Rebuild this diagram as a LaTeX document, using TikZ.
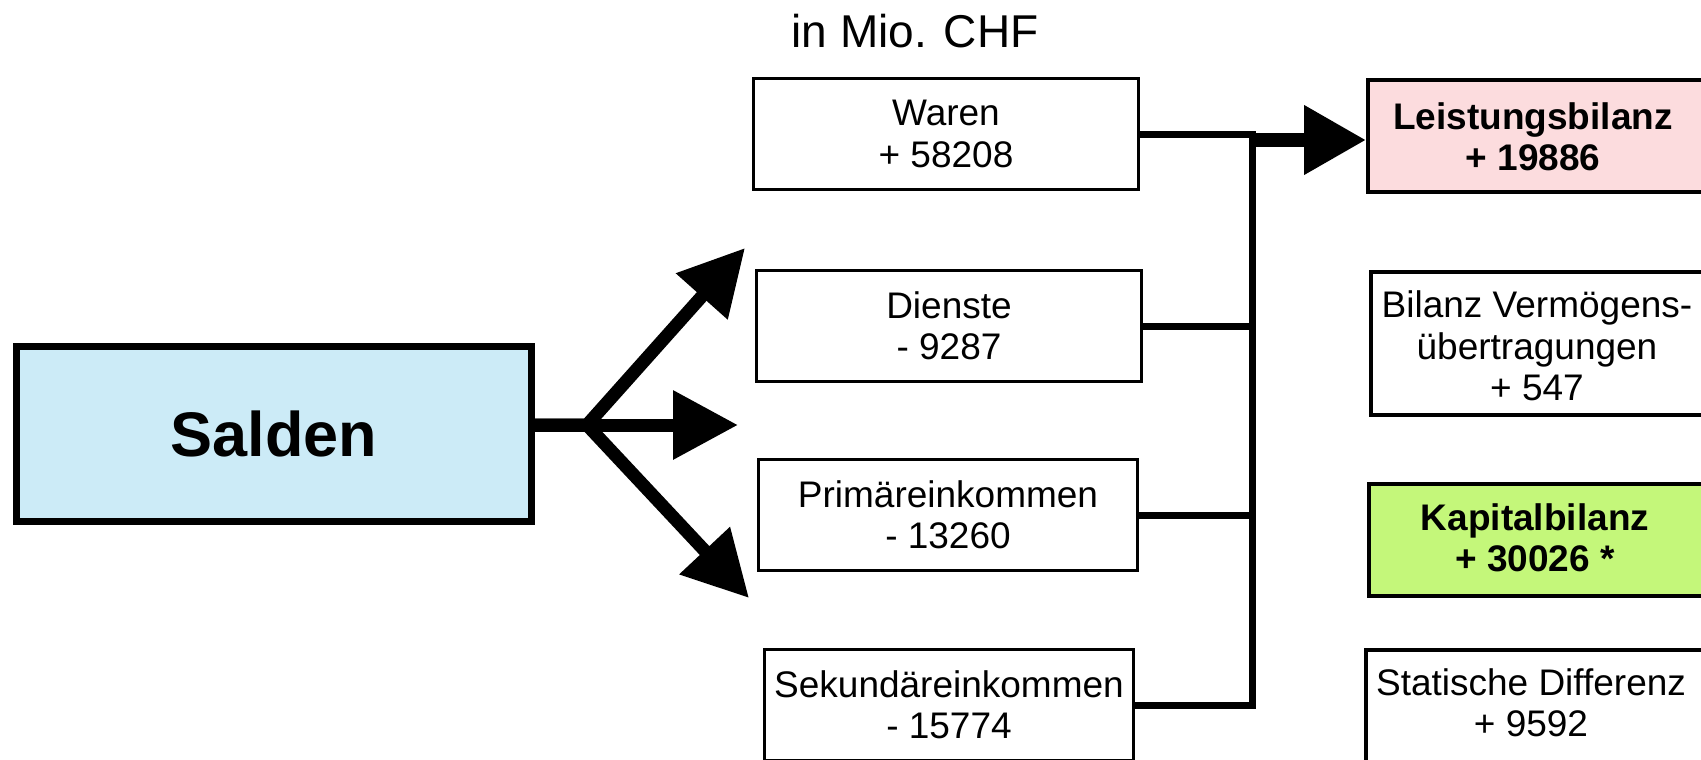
\documentclass[tikz,border=0pt]{standalone}
\usepackage{fontspec}
\setmainfont{Liberation Sans}
\usetikzlibrary{arrows.meta}
\definecolor{saldenblue}{RGB}{204,235,247}
\definecolor{leistpink}{RGB}{252,220,222}
\definecolor{kapgreen}{RGB}{196,247,122}
\newcommand{\bxfont}{\fontsize{37pt}{41.5pt}\selectfont}
\begin{document}
\begin{tikzpicture}[x=1pt,y=-1pt,
  lbox/.style={draw=black, line width=3pt, fill=white, minimum width=385pt, minimum height=111pt, inner sep=0pt, align=center, font=\bxfont},
  rbox/.style={draw=black, line width=4pt, minimum height=112pt, minimum width=370pt, anchor=west, inner sep=0pt},
  lbl/.style={align=center, font=\bxfont, inner sep=0pt},
  conn/.style={line width=7pt},
  bigarrow/.style={line width=13pt, -{Triangle[length=65pt,width=66pt]}},
]
\useasboundingbox (0,0) rectangle (1701,760);
\clip (0,0) rectangle (1701,760);
\fill[white] (0,0) rectangle (1701,760);

% title
\node[font=\fontsize{46pt}{50pt}\selectfont, anchor=base, inner sep=0pt] (title) at (915,48) {in Mio. CHF};

% Salden
\node[draw=black, line width=7pt, fill=saldenblue, minimum width=515pt, minimum height=175pt, inner sep=0pt,
      font=\fontsize{63pt}{70pt}\selectfont\bfseries] (salden) at (274,434) {Salden};

% left column boxes
\node[lbox] (waren) at (946,134) {Waren\\+ 58208};
\node[lbox] (dienste) at (949,326) {Dienste\\- 9287};
\node[lbox, minimum width=379pt] (primaer) at (948,515) {Prim\"areinkommen\\- 13260};
\node[lbox, minimum width=369pt] (sekundaer) at (949,705) {Sekund\"areinkommen\\- 15774};

% right column boxes
\node[rbox, fill=leistpink] (leist) at (1366,136) {};
\node[rbox, fill=white, minimum height=143pt] (bilanz) at (1369,343.5) {};
\node[rbox, fill=kapgreen] (kapital) at (1367,540) {};
\node[rbox, fill=white] (statisch) at (1364,706) {};

\node[lbl, font=\bxfont\bfseries] (leisttext) at (1533,137) {Leistungsbilanz\\+ 19886};
\node[lbl] (bilanztext) at (1537,346) {Bilanz Verm\"ogens-\\\"ubertragungen\\+ 547};
\node[lbl, font=\bxfont\bfseries] (kaptext) at (1535,538) {Kapitalbilanz\\+ 30026 *};
\node[lbl] (stattext) at (1531,703) {Statische Differenz\\+ 9592};

% Salden arrows
\coordinate (br) at (587,425);
\coordinate (t1) at (745,248);
\coordinate (t2) at (738,425);
\coordinate (t3) at (749,598);
\draw[bigarrow] (salden.east |- br) -- (br) -- (t1);
\draw[bigarrow] (salden.east |- br) -- (br) -- (t3);
\draw[bigarrow] (salden.east |- br) -- (t2);

% collector
\coordinate (vx) at (1252.5,0);
\draw[conn] (sekundaer.east) -- (sekundaer.east -| vx) -- (waren.east -| vx) -- (waren.east);
\draw[conn] (dienste.east) -- (dienste.east -| vx);
\draw[conn] (primaer.east) -- (primaer.east -| vx);
\coordinate (ja) at (1252.5,140);
\draw[line width=14pt, -{Triangle[length=62pt,width=66pt]}] (ja) -- (ja -| leist.west);
\end{tikzpicture}
\end{document}
